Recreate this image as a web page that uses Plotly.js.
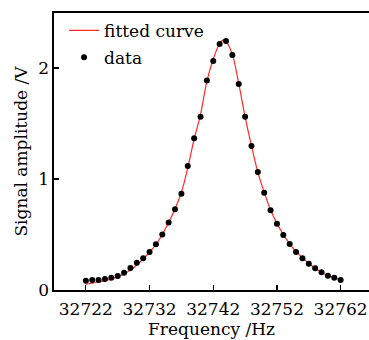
<!DOCTYPE html>
<html>
<head>
<meta charset="utf-8">
<script src="https://cdn.plot.ly/plotly-3.0.1.min.js"></script>
<style>html,body{margin:0;padding:0;background:#fff;}#chart{width:369px;height:340px;}</style>
</head>
<body>
<div id="chart"></div>
<script>
const dataFreq = [32722,32723,32724,32725,32726,32727,32728,32729,32730,32731,32732,32733,32734,32735,32736,32737,32738,32739,32740,32741,32742,32743,32744,32745,32746,32747,32748,32749,32750,32751,32752,32753,32754,32755,32756,32757,32758,32759,32760,32761,32762];
const dataAmp = [0.084,0.090,0.090,0.099,0.111,0.126,0.156,0.198,0.246,0.285,0.342,0.411,0.501,0.607,0.727,0.868,1.117,1.367,1.561,1.886,2.063,2.216,2.243,2.117,1.856,1.561,1.297,1.063,0.877,0.718,0.597,0.495,0.414,0.342,0.285,0.237,0.195,0.159,0.129,0.111,0.090];
const fitFreq = [32722,32723,32724,32725,32726,32727,32728,32729,32730,32731,32732,32733,32734,32735,32736,32737,32738,32739,32740,32741,32742,32743,32743.5,32744,32745,32746,32747,32748,32749,32750,32751,32752,32753,32754,32755,32756,32757,32758,32759,32760,32761,32762];
const fitAmp = [0.052,0.062,0.072,0.085,0.100,0.120,0.145,0.180,0.225,0.280,0.340,0.410,0.500,0.610,0.730,0.880,1.100,1.360,1.580,1.880,2.080,2.220,2.250,2.240,2.120,1.860,1.560,1.300,1.060,0.880,0.720,0.600,0.500,0.415,0.345,0.290,0.240,0.195,0.160,0.130,0.110,0.090];
const xTicks = [32722,32732,32742,32752,32762];
const yTicks = [0,1,2];

const font = {family:'DejaVu Serif', size:17, color:'#000'};

const traces = [
  {x: fitFreq, y: fitAmp, mode:'lines', name:'fitted curve', legend:'legend', line:{color:'#ff2a2a', width:1.2, shape:'spline'}},
  {x: dataFreq, y: dataAmp, mode:'markers', name:'data', legend:'legend2', marker:{color:'#000', size:6}}
];

const legBase = {xanchor:'left', yanchor:'middle', bgcolor:'rgba(0,0,0,0)', font:font, itemwidth:30};

const layout = {
  width:369, height:340,
  margin:{l:54, r:0, t:13, b:50},
  paper_bgcolor:'#fff', plot_bgcolor:'#fff',
  font: font,
  showlegend:true,
  legend:Object.assign({x:0.032, y:0.936}, legBase),
  legend2:Object.assign({x:0.032, y:0.8386}, legBase),
  xaxis:{range:[32717,32766.45], tickvals:xTicks, ticktext:xTicks.map(String), ticks:'inside', ticklen:5, tickwidth:1.2, tickcolor:'#000',
         showline:true, linecolor:'#000', linewidth:1.6, mirror:true, showgrid:false, zeroline:false, ticklabelstandoff:3,
         automargin:true, title:{text:'Frequency /Hz', font:font, standoff:4}, tickfont:font},
  yaxis:{range:[0,2.495], tickvals:yTicks, ticktext:yTicks.map(String), ticks:'inside', ticklen:5, tickwidth:1.2, tickcolor:'#000',
         showline:true, linecolor:'#000', linewidth:1.6, showgrid:false, zeroline:false,
         automargin:true, title:{text:'Signal amplitude /V', font:font, standoff:6}, tickfont:font}
};

Plotly.newPlot('chart', traces, layout, {staticPlot:true, displayModeBar:false});
</script>
</body>
</html>
